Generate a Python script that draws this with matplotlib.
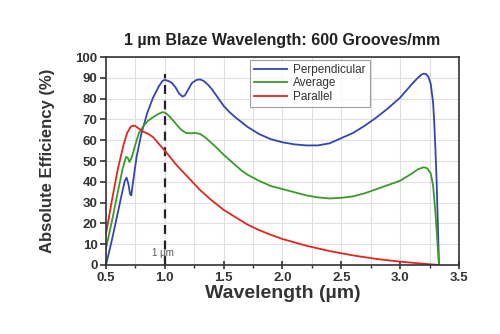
import matplotlib
matplotlib.use("Agg")
import matplotlib.pyplot as plt
from matplotlib.ticker import MultipleLocator

plt.rcParams['font.family'] = ['Liberation Sans', 'DejaVu Sans']

perp_x = [0.5, 0.55, 0.6, 0.63, 0.66, 0.675, 0.69, 0.705, 0.715, 0.73, 0.76, 0.8, 0.85, 0.9, 0.95,
          0.98, 1.0, 1.03, 1.06, 1.09, 1.12, 1.15, 1.17, 1.2, 1.23, 1.27, 1.3, 1.33, 1.37, 1.4, 1.45,
          1.5, 1.55, 1.6, 1.7, 1.8, 1.9, 2.0, 2.1, 2.2, 2.3, 2.4, 2.5, 2.6, 2.7, 2.8, 2.9, 3.0,
          3.1, 3.15, 3.18, 3.2, 3.22, 3.24, 3.26, 3.28, 3.29, 3.3, 3.31, 3.32, 3.33]
perp_y = [0, 12, 25, 33, 40.5, 42, 39, 34, 33.5, 40, 52, 63, 73, 80.5, 86,
          88.5, 89, 88.5, 87.5, 85.5, 82.5, 81, 81.5, 84.5, 87.5, 89, 89.2, 88.5, 86.5, 84.5, 80.5,
          76.5, 73.5, 71, 66.5, 63, 60.5, 59, 58, 57.5, 57.5, 58.5, 61, 63.5, 67, 71, 75.5, 80.5,
          87, 90, 91.5, 92, 91.8, 90.5, 87, 78, 68, 55, 40, 20, 0]

avg_x = [0.5, 0.55, 0.6, 0.64, 0.67, 0.685, 0.7, 0.72, 0.75, 0.78, 0.82, 0.86, 0.9, 0.94, 0.98, 1.0,
         1.03, 1.07, 1.1, 1.14, 1.18, 1.22, 1.26, 1.3, 1.34, 1.38, 1.42, 1.5, 1.55, 1.6, 1.65, 1.7,
         1.8, 1.9, 2.0, 2.1, 2.2, 2.3, 2.4, 2.5, 2.6, 2.7, 2.8, 2.9, 3.0, 3.1, 3.15, 3.2, 3.23,
         3.26, 3.28, 3.3, 3.32, 3.33]
avg_y = [8, 21, 35, 46, 52, 51.5, 49.5, 52, 58, 63.5, 67, 69.5, 71, 72.5, 73.5, 73.3,
         72, 69.5, 67.5, 65, 63.5, 63.3, 63.5, 63, 61.5, 59.5, 57.5, 53, 50.5, 48, 45.5, 43.5,
         40.5, 38, 36.5, 35, 33.5, 32.5, 32, 32.3, 33, 34.5, 36.5, 38.5, 40.5, 44, 46, 47, 46.5,
         44, 38, 25, 8, 0]

par_x = [0.5, 0.55, 0.6, 0.65, 0.68, 0.71, 0.73, 0.75, 0.78, 0.82, 0.86, 0.9, 0.93, 0.96, 1.0,
         1.05, 1.1, 1.15, 1.2, 1.3, 1.4, 1.5, 1.6, 1.7, 1.8, 1.9, 2.0, 2.2, 2.4, 2.6, 2.8, 3.0,
         3.2, 3.33]
par_y = [15, 31, 46, 58, 63.5, 66.5, 67, 66.8, 65.5, 64, 63, 61.5, 59.5, 57.5, 55,
         51.5, 48, 45, 42, 36, 31, 26.5, 23, 19.5, 16.8, 14.5, 12.5, 9.3, 6.7, 4.6, 2.9, 1.6,
         0.6, 0]

x_ticks = [0.5, 1.0, 1.5, 2.0, 2.5, 3.0, 3.5]
y_ticks = [0, 10, 20, 30, 40, 50, 60, 70, 80, 90, 100]

fig = plt.figure(figsize=(5.0, 3.34), dpi=100)
ax = fig.add_axes([0.212, 0.2066, 0.706, 0.6227])

ax.plot(perp_x, perp_y, color='#3346b0', lw=1.3, label='Perpendicular')
ax.plot(avg_x, avg_y, color='#3a9a2a', lw=1.3, label='Average')
ax.plot(par_x, par_y, color='#e3261c', lw=1.3, label='Parallel')

ax.plot([1.0, 1.0], [0, 92], color='#222222', lw=1.6, ls=(0, (4, 3)), zorder=1)
ax.text(0.985, 5.8, '1 µm', fontsize=7, color='#555555', ha='center', va='center')

ax.set_xlim(0.5, 3.5)
ax.set_ylim(0, 100)
ax.set_xticks(x_ticks)
ax.set_xticklabels([f'{v:.1f}' for v in x_ticks])
ax.set_yticks(y_ticks)
ax.set_yticklabels([str(v) for v in y_ticks])
ax.xaxis.set_minor_locator(MultipleLocator(0.25))
ax.grid(True, which='both', axis='x', color='#e0e0e0', lw=0.8, zorder=0)
ax.grid(True, which='major', axis='y', color='#e0e0e0', lw=0.8, zorder=0)
ax.set_axisbelow(True)

for s in ax.spines.values():
    s.set_color('#333333')
    s.set_linewidth(1.2)

ax.tick_params(axis='x', which='major', direction='inout', length=6, width=1.2, color='#333333',
               labelsize=9.5, labelcolor='#333333', pad=2)
ax.tick_params(axis='x', which='minor', direction='out', length=2.5, width=1, color='#333333')
ax.tick_params(axis='y', which='major', direction='out', length=4, width=1.2, color='#333333',
               labelsize=9.5, labelcolor='#333333', pad=2)
for lab in ax.get_xticklabels() + ax.get_yticklabels():
    lab.set_fontweight('bold')

ax.set_xlabel('Wavelength (µm)', fontsize=14, fontweight='bold', color='#333333', labelpad=1)
ax.set_ylabel('Absolute Efficiency (%)', fontsize=12, fontweight='bold', color='#333333', labelpad=15)
ax.set_title('1 µm Blaze Wavelength: 600 Grooves/mm', fontsize=11.5, fontweight='bold',
             color='#222222', pad=9)

leg = ax.legend(loc='upper left', bbox_to_anchor=(0.408, 0.986), borderaxespad=0, fontsize=8.5,
                frameon=True, fancybox=False, edgecolor='#888888', handlelength=2.8,
                labelspacing=0.12, borderpad=0.35, handletextpad=0.5)
leg.get_frame().set_linewidth(0.8)
for t in leg.get_texts():
    t.set_color('#333333')

fig.savefig('out.png', dpi=100)
